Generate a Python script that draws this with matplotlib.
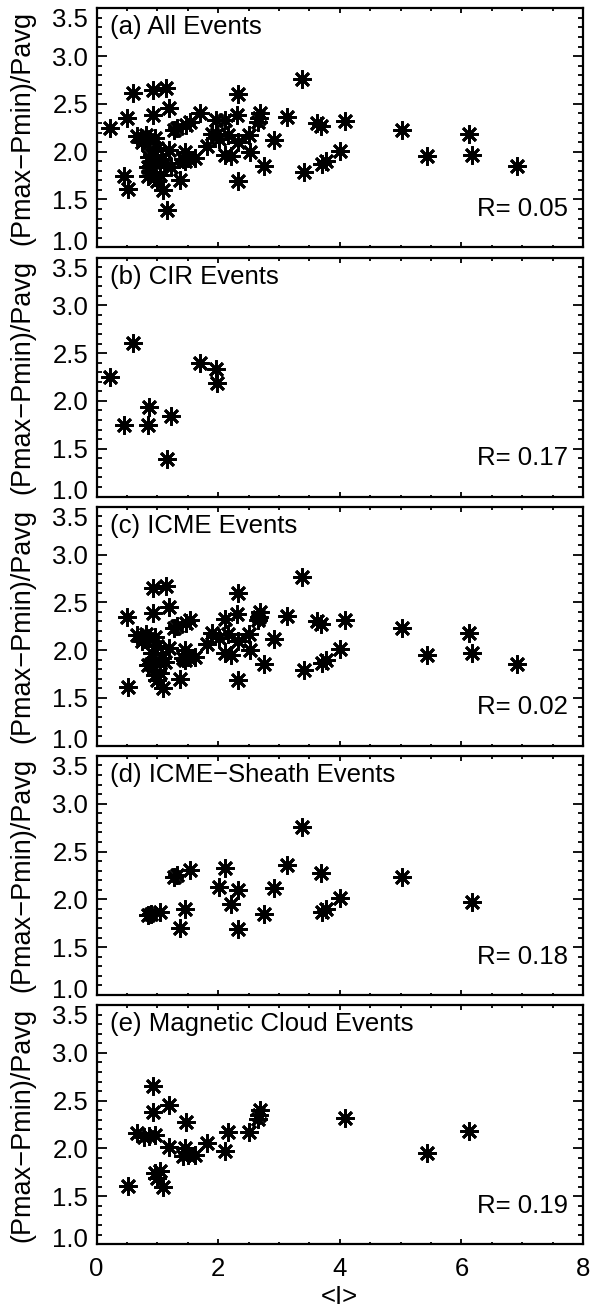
import matplotlib
matplotlib.use("Agg")
import matplotlib.pyplot as plt
from matplotlib.ticker import MultipleLocator, FormatStrFormatter
import matplotlib.transforms as mtransforms

plt.rcParams['font.family'] = ['Liberation Sans', 'DejaVu Sans']

# ---- data ----
# CIR events
cir_x = [0.23, 0.46, 0.60, 0.85, 0.87, 1.16, 1.22, 1.71, 1.96, 1.98]
cir_y = [2.25, 1.75, 2.61, 1.75, 1.94, 1.39, 1.84, 2.40, 2.33, 2.19]

# ICME-sheath events
sheath_x = [0.85, 0.90, 1.05, 1.28, 1.32, 1.37, 1.45, 1.53, 2.02, 2.12, 2.21, 2.33,
            2.33, 2.76, 2.92, 3.14, 3.38, 3.69, 3.71, 3.78, 4.00, 5.02, 6.17]
sheath_y = [1.84, 1.85, 1.87, 2.23, 2.25, 1.70, 1.90, 2.31, 2.13, 2.33, 1.95, 2.10,
            1.69, 1.85, 2.12, 2.36, 2.76, 2.27, 1.87, 1.90, 2.01, 2.23, 1.97]

# Magnetic cloud events
mc_x = [0.52, 0.66, 0.78, 0.86, 0.97, 0.93, 0.93, 1.19, 1.47, 1.19, 1.46, 1.43,
        1.51, 1.62, 1.81, 2.11, 2.17, 2.51, 2.66, 2.69, 2.67, 0.96, 1.04, 0.99,
        1.10, 4.08, 5.44, 6.12]
mc_y = [1.61, 2.16, 2.12, 2.13, 2.14, 2.65, 2.385, 2.455, 2.28, 2.02, 2.00, 1.92,
        1.93, 1.93, 2.06, 1.97, 2.17, 2.17, 2.31, 2.40, 2.35, 1.74, 1.76, 1.69,
        1.60, 2.32, 1.95, 2.18]

# other ICME events (seen in panel c, not in d or e)
ej_x = [0.50, 1.15, 2.32, 2.31, 2.52, 1.90, 3.62, 3.41, 6.91, 1.00, 1.07, 0.75,
        0.82, 0.92, 1.12]
ej_y = [2.35, 2.67, 2.60, 2.38, 2.00, 2.18, 2.30, 1.79, 1.85, 2.04, 1.92, 2.10,
        2.17, 1.97, 1.88]

icme_x = sheath_x + mc_x + ej_x
icme_y = sheath_y + mc_y + ej_y
all_x = cir_x + icme_x
all_y = cir_y + icme_y

titles = ["(a) All Events", "(b) CIR Events", "(c) ICME Events",
          "(d) ICME\u2212Sheath Events", "(e) Magnetic Cloud Events"]
r_values = ["0.05", "0.17", "0.02", "0.18", "0.19"]
panels = [(all_x, all_y), (cir_x, cir_y), (icme_x, icme_y),
          (sheath_x, sheath_y), (mc_x, mc_y)]

W, H = 590, 1311
fig = plt.figure(figsize=(W / 100, H / 100), dpi=100)

left_px, right_px = 96.5, 583.0
top0, h_px, step = 8.3, 239.0, 249.2
fs = 18.5

for i, ((xs, ys), title, r) in enumerate(zip(panels, titles, r_values)):
    top = top0 + i * step
    ax = fig.add_axes([left_px / W, 1 - (top + h_px) / H,
                       (right_px - left_px) / W, h_px / H])
    ax.plot(xs, ys, linestyle='none', marker=(8, 2, 0), markersize=13,
            markeredgewidth=2.0, color='black')
    ax.set_xlim(0, 8)
    ax.set_ylim(1.0, 3.5)
    ax.xaxis.set_major_locator(MultipleLocator(2))
    ax.xaxis.set_minor_locator(MultipleLocator(0.5))
    ax.yaxis.set_major_locator(MultipleLocator(0.5))
    ax.yaxis.set_minor_locator(MultipleLocator(0.1))
    ax.tick_params(which='both', direction='in', top=True, right=True,
                   width=1.3, labelsize=fs, colors='black')
    ax.tick_params(axis='x', which='major', length=3.5, pad=9)
    ax.tick_params(axis='x', which='minor', length=1.8)
    ax.tick_params(axis='y', which='major', length=7, pad=6)
    ax.tick_params(axis='y', which='minor', length=3.5)
    ax.yaxis.set_major_formatter(FormatStrFormatter('%.1f'))
    for sp in ax.spines.values():
        sp.set_linewidth(1.6)
    if i < 4:
        ax.tick_params(axis='x', labelbottom=False)
    else:
        ax.set_xlabel('<I>', fontsize=fs, labelpad=3)
    ax.set_ylabel('(Pmax\u2212Pmin)/Pavg', fontsize=19.5, va='center')
    ax.yaxis.set_label_coords(-0.152, 0.5)
    fig.canvas.draw()
    for lab in ax.get_yticklabels():
        t = lab.get_text()
        if t == '3.5':
            lab.set_verticalalignment('top')
        elif t == '1.0':
            lab.set_verticalalignment('baseline')
            lab.set_transform(lab.get_transform() +
                              mtransforms.ScaledTranslation(0, -2 / 72, fig.dpi_scale_trans))
    ax.text(0.028, 0.92, title, transform=ax.transAxes, fontsize=fs,
            ha='left', va='center')
    ax.text(0.969, 0.16, 'R= ' + r, transform=ax.transAxes, fontsize=fs,
            ha='right', va='center')

fig.savefig('out.png', dpi=100)
